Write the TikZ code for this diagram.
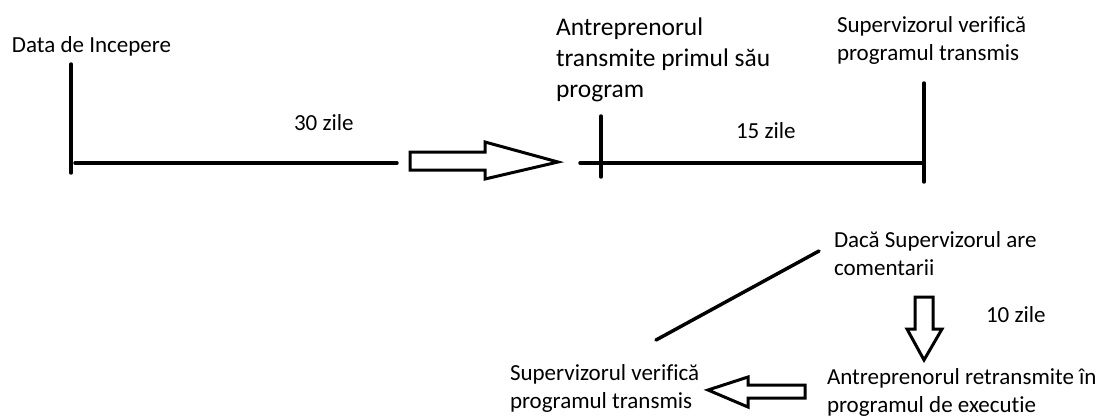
\documentclass[tikz,border=0pt]{standalone}
\usepackage{fontspec}
\setmainfont{Carlito}[Ligatures=NoCommon]
\begin{document}
\begin{tikzpicture}[x=0.75pt,y=-0.75pt,
  lbl/.style={inner sep=0pt,outer sep=0pt,anchor=base west,align=left,
    font=\fontsize{17.25pt}{21pt}\selectfont},
  biglbl/.style={lbl,font=\fontsize{19.1pt}{23.25pt}\selectfont},
  tl/.style={line width=2.6pt,line cap=round},
  hollow/.style={line width=2.25pt,line join=miter,fill=white}]
\useasboundingbox (0,0) rectangle (1102,419);
% coordinates of the time line
\coordinate (v1t) at (71,64);
\coordinate (v1b) at (71,173);
\coordinate (h1a) at (75,163);
\coordinate (h1b) at (397,163);
\coordinate (h2a) at (580,163);
\coordinate (h2b) at (924,163);
\coordinate (v2t) at (601,116);
\coordinate (v2b) at (601,177);
\coordinate (v3t) at (924,83);
\coordinate (v3b) at (924,182);
\coordinate (d1) at (819,251);
\coordinate (d2) at (656,340);
% labels (anchored at the baseline of their last line)
\node[lbl] (start) at (12,52) {Data de Incepere};
\node[lbl] (z30) at (294,130) {30 zile};
\node[biglbl] (antr) at (556,97) {Antreprenorul\\transmite primul său\\program};
\node[lbl] (z15) at (736,138) {15 zile};
\node[lbl] (sup1) at (837,60) {Supervizorul verifică\\programul transmis};
\node[lbl] (daca) at (834,275) {Dacă Supervizorul are\\comentarii};
\node[lbl] (z10) at (986,322) {10 zile};
\node[lbl] (retr) at (827,412) {Antreprenorul retransmite în\\programul de executie};
\node[lbl] (sup2) at (510,408) {Supervizorul verifică\\programul transmis};
% time lines
\draw[tl] (v1t) -- (v1b);
\draw[tl] (h1a) -- (h1b);
\draw[tl] (h2a) -- (h2b);
\draw[tl] (v2t) -- (v2b);
\draw[tl] (v3t) -- (v3b);
\draw[tl] (d1) -- (d2);
% hollow arrows
\draw[hollow] (410,152) -- (485,152) -- (485,142) -- (558,162) -- (485,179) -- (485,170) -- (410,170) -- cycle;
\draw[hollow] (915,297) -- (933,297) -- (933,329) -- (942,329) -- (924,360) -- (907,329) -- (915,329) -- cycle;
\draw[hollow] (805,385) -- (748,385) -- (748,377) -- (708,390) -- (748,407) -- (748,398) -- (805,398) -- cycle;
\end{tikzpicture}
\end{document}
